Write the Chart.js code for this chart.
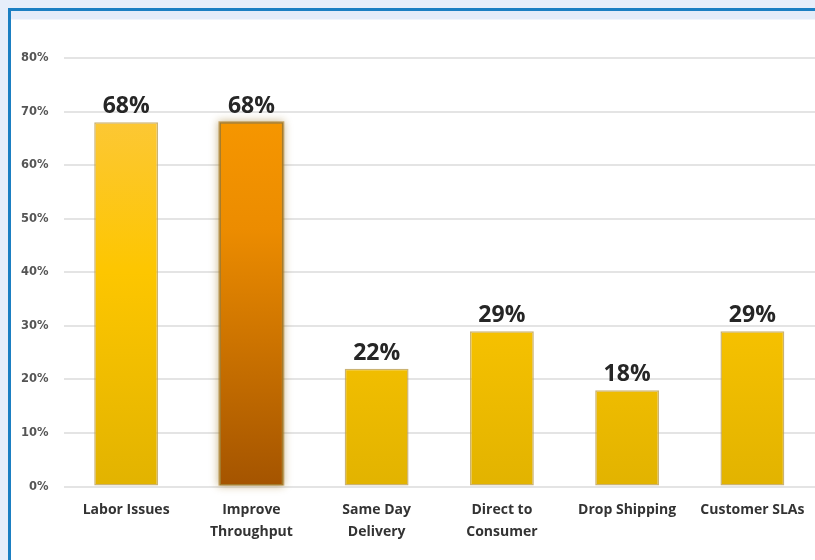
<!DOCTYPE html>
<html>
<head>
<meta charset="utf-8">
<script src="https://cdn.jsdelivr.net/npm/chart.js@4.4.1/dist/chart.umd.min.js"></script>
<style>
  html, body { margin: 0; padding: 0; }
  body { width: 815px; height: 560px; background: #e6eefa; position: relative; overflow: hidden; }
  #frame {
    position: absolute; left: 8px; top: 8px; width: 820px; height: 560px;
    border-left: 3px solid #1b7fc2; border-top: 3px solid #1b7fc2;
    background: linear-gradient(to bottom, #e3ecf9 0px, #e3ecf9 8px, #ffffff 9px);
  }
  #wrap { position: absolute; left: 0; top: 0; width: 815px; height: 560px; }
</style>
</head>
<body>
<div id="frame"></div>
<div id="wrap"><canvas id="chart" width="815" height="560"></canvas></div>
<script>
const categories = [['Labor Issues'], ['Improve', 'Throughput'], ['Same Day', 'Delivery'], ['Direct to', 'Consumer'], ['Drop Shipping'], ['Customer SLAs']];
const values = [68, 68, 22, 29, 18, 29];
const highlightIndex = 1;

function barGradient(context) {
  const chart = context.chart;
  const area = chart.chartArea;
  if (!area) return '#fcc400';
  const g = chart.ctx.createLinearGradient(0, area.top, 0, area.bottom);
  if (context.dataIndex === highlightIndex) {
    g.addColorStop(0, '#fb9c00');
    g.addColorStop(0.4, '#ec8c00');
    g.addColorStop(1, '#a45400');
  } else {
    g.addColorStop(0, '#fcc84a');
    g.addColorStop(0.5, '#fdc600');
    g.addColorStop(1, '#e2b300');
  }
  return g;
}

const glowPlugin = {
  id: 'glow',
  beforeDatasetsDraw(chart) {
    const el = chart.getDatasetMeta(0).data[highlightIndex];
    if (!el) return;
    const ctx = chart.ctx;
    const w = el.width;
    ctx.save();
    ctx.shadowColor = 'rgba(150,110,20,0.8)';
    ctx.shadowBlur = 8;
    ctx.fillStyle = 'rgba(170,120,30,0.6)';
    ctx.fillRect(el.x - w / 2 - 1, el.y - 1, w + 2, el.base - el.y + 1);
    ctx.restore();
  }
};

const labelPlugin = {
  id: 'valueLabels',
  afterDatasetsDraw(chart) {
    const ctx = chart.ctx;
    ctx.save();
    ctx.font = 'bold 23px "Open Sans", sans-serif';
    ctx.fillStyle = '#262626';
    ctx.textAlign = 'center';
    ctx.textBaseline = 'bottom';
    chart.getDatasetMeta(0).data.forEach((el, i) => {
      ctx.fillText(values[i] + '%', el.x, el.y - 4);
    });
    ctx.restore();
  }
};

new Chart(document.getElementById('chart'), {
  type: 'bar',
  data: {
    labels: categories,
    datasets: [{
      data: values,
      backgroundColor: barGradient,
      borderColor: ctx => ctx.dataIndex === highlightIndex ? 'rgba(160,120,40,0.9)' : 'rgba(190,160,80,0.8)',
      borderWidth: 1.5,
      borderSkipped: false,
      categoryPercentage: 1,
      barPercentage: 0.51
    }]
  },
  options: {
    responsive: false,
    animation: false,
    devicePixelRatio: 1,
    layout: { padding: { top: 58, right: 0, left: 6, bottom: 12 } },
    plugins: { legend: { display: false }, tooltip: { enabled: false } },
    scales: {
      y: {
        min: 0, max: 80,
        ticks: {
          stepSize: 10,
          callback: v => v + '%',
          color: '#555',
          font: { family: '"DejaVu Sans", sans-serif', size: 11.5, weight: 'bold' },
          padding: 15
        },
        grid: { color: '#e4e4e4', lineWidth: 2, drawTicks: false },
        border: { display: false }
      },
      x: {
        ticks: {
          color: '#333',
          font: { family: '"Open Sans", sans-serif', size: 14, weight: 'bold', lineHeight: 1.55 },
          padding: 5,
          maxRotation: 0,
          autoSkip: false
        },
        grid: { display: false },
        border: { display: false }
      }
    }
  },
  plugins: [glowPlugin, labelPlugin]
});
</script>
</body>
</html>
